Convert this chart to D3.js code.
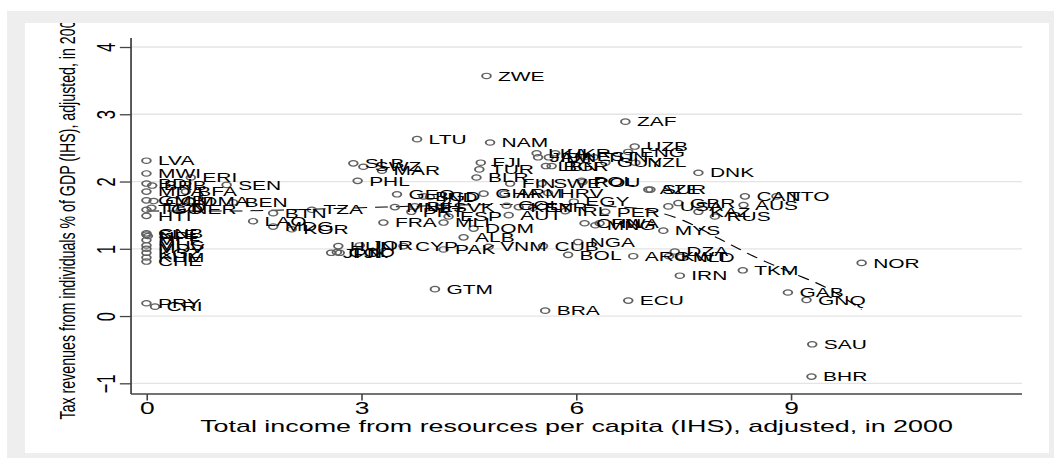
<!DOCTYPE html>
<html><head><meta charset="utf-8">
<script src="https://cdn.jsdelivr.net/npm/d3@7"></script>
<style>body{margin:0;background:#fff}svg text{font-family:"Liberation Sans",Arial,Helvetica,sans-serif}</style>
</head><body><svg id="c" width="1054" height="458"></svg>
<script>
const countries = ["LVA","MWI","ERI","BDI","BRB","SEN","MDA","BFA","GMB","COM","DMA","BEN","TGO","TCD","NER","HTI","GNB","SLE","NPL","MLT","MUS","MDV","KGZ","KHM","CHE","PRY","CRI",
"LAO","MDG","KOR","BTN","TZA","PHL","SLB","SWZ","MAR","LTU","GEO","BGD","IND","MNE","BIH","SVK","PRT","ESP","FRA","MLI","DOM","ALB","HUN","JOR","CYP","JPN","COD","TJK","PAK","GTM",
"ZWE","NAM","FJI","TUR","BLR","GHA","ARM","HRV","FIN","SWE","POL","ROU","LKA","UKR","JAM","IDN","EST","TUN","LBN","BGR","GUY","NZL","UZB","ENG","ZAF","EGY","COL","KEN","SYR","AUT","IRL","PER","CHN","RWA","MNG","CUB","NGA","VNM","BOL","ARG","BRA","ECU",
"AZE","SUR","DNK","USA","GBR","KAZ","RUS","AUS","CAN","TTO","MYS","DZA","KWT","NLD","IRN","TKM","NOR","GAB","GNQ","SAU","BHR"];
const xValues = [0,0,0.62,0,0.08,1.12,0,0.55,0,0.1,0.62,1.21,0,0.07,0.48,0,0,0,0.02,0,0,0,0,0,0,0,0.12,
1.49,1.77,2.03,1.77,2.31,2.95,2.89,3.03,3.29,3.78,3.50,3.87,3.96,3.47,3.75,4.12,3.70,4.22,3.31,4.15,4.57,4.43,2.68,2.98,3.59,2.58,2.66,2.70,4.15,4.03,
4.75,4.80,4.67,4.65,4.61,4.71,5.00,5.61,5.08,5.52,6.08,6.09,5.45,5.71,5.47,5.62,6.13,6.25,5.58,5.66,6.41,6.83,6.82,6.73,6.69,5.97,5.03,5.20,5.40,5.06,5.85,6.41,6.12,6.33,6.27,5.54,6.03,4.78,5.89,6.80,5.57,6.73,
7.01,7.04,7.71,7.29,7.43,7.71,7.94,8.34,8.36,8.80,7.22,7.38,7.30,7.47,7.45,8.33,9.99,8.96,9.22,9.30,9.29];
const yValues = [2.31,2.12,2.06,1.97,1.94,1.95,1.85,1.85,1.72,1.71,1.71,1.69,1.58,1.61,1.58,1.49,1.23,1.21,1.19,1.13,1.05,1.00,0.94,0.87,0.81,0.19,0.14,
1.41,1.33,1.29,1.53,1.58,2.01,2.27,2.22,2.16,2.63,1.81,1.78,1.77,1.62,1.63,1.62,1.55,1.48,1.39,1.39,1.30,1.17,1.04,1.05,1.04,0.94,0.95,0.94,0.99,0.40,
3.57,2.58,2.28,2.18,2.06,1.82,1.82,1.83,1.97,1.97,2.01,1.99,2.42,2.42,2.36,2.36,2.37,2.36,2.23,2.23,2.28,2.28,2.52,2.44,2.89,1.70,1.64,1.62,1.61,1.50,1.56,1.55,1.38,1.38,1.35,1.04,1.10,1.03,0.91,0.89,0.08,0.23,
1.88,1.88,2.13,1.63,1.68,1.55,1.48,1.65,1.78,1.78,1.27,0.96,0.89,0.88,0.60,0.68,0.79,0.35,0.24,-0.42,-0.90];
const fitX = [0,1,2,3,4,5,6,6.5,7,7.5,8,8.5,9,9.5,9.99];
const fitY = [1.56,1.56,1.58,1.61,1.64,1.66,1.66,1.63,1.58,1.42,1.15,0.88,0.65,0.42,0.10];
const xTicks = [0,3,6,9];
const yTicks = [-1,0,1,2,3,4];
const xTitle = "Total income from resources per capita (IHS), adjusted, in 2000";
const yTitle = "Tax revenues from individuals % of GDP (IHS), adjusted, in 2000";

const SX = 1.6;
const svg = d3.select("#c");
const root = svg.append("g").attr("transform", `scale(${SX},1)`);
const L = 81.9, R = 638.75, T = 38, B = 394;

root.append("rect").attr("x",7/SX).attr("y",11).attr("width",(1054-7)/SX).attr("height",458-11).attr("fill","#eeeeee");
root.append("rect").attr("x",25/SX).attr("y",23).attr("width",(1049-25)/SX).attr("height",453-23).attr("fill","#ffffff");
const defs = svg.append("defs");
defs.append("clipPath").attr("id","clipW").append("rect").attr("x",25/SX).attr("y",23).attr("width",(1049-25)/SX).attr("height",430);

const x = d3.scaleLinear().domain([-0.215, 12.23]).range([L, R]);
const y = d3.scaleLinear().domain([-1.159, 4.134]).range([B, T]);

// grid
root.append("g").selectAll("line").data(yTicks).join("line")
  .attr("x1", L).attr("x2", R).attr("y1", d=>y(d)).attr("y2", d=>y(d))
  .attr("stroke","#e4e4e4").attr("stroke-width",1.3);

// axes
const xAxis = root.append("g").attr("transform",`translate(0,${B})`)
  .call(d3.axisBottom(x).tickValues(xTicks).tickSize(6.5).tickPadding(1.5).tickFormat(d3.format("d")));
xAxis.select(".domain").attr("d",`M${L},0H${R}`).attr("stroke","#444").attr("stroke-width",1.3);
xAxis.selectAll(".tick line").attr("stroke","#444").attr("stroke-width",1);
xAxis.selectAll("text").attr("font-size",16.5).attr("fill","#000").attr("font-family",null);

const yAxis = root.append("g").attr("transform",`translate(${L},0)`)
  .call(d3.axisLeft(y).tickValues(yTicks).tickSize(7).tickPadding(2).tickFormat(d3.format("d")));
yAxis.select(".domain").attr("d",`M0,${T}V${B}`).attr("stroke","#444").attr("stroke-width",1.1);
yAxis.selectAll(".tick line").attr("stroke","#444").attr("stroke-width",1.3);
yAxis.selectAll("text").attr("font-size",16.5).attr("fill","#000").attr("font-family",null)
  .attr("transform","rotate(-90)").attr("x",0).attr("y",-10).attr("dy",0).attr("text-anchor","middle");

// fit line
const line = d3.line().x((d,i)=>x(fitX[i])).y((d,i)=>y(fitY[i])).curve(d3.curveMonotoneX);
root.append("path").datum(fitX).attr("d", line).attr("fill","none")
  .attr("stroke","#000").attr("stroke-width",1).attr("stroke-dasharray","8,5");

// points
const pts = root.append("g");
pts.selectAll("circle").data(countries).join("circle")
  .attr("cx",(d,i)=>x(xValues[i])).attr("cy",(d,i)=>y(yValues[i])).attr("r",2.7)
  .attr("fill","none").attr("stroke","#606060").attr("stroke-width",1.2);
pts.selectAll("text").data(countries).join("text")
  .attr("x",(d,i)=>x(xValues[i])+7.2).attr("y",(d,i)=>y(yValues[i])).attr("dy","0.36em")
  .attr("font-size",13.1).attr("fill","#000").text(d=>d);

// titles
root.append("text").attr("x",(L+R)/2).attr("y",432).attr("text-anchor","middle")
  .attr("font-size",16.8).attr("fill","#000").text(xTitle);
root.append("g").attr("clip-path","url(#clipW)").append("text")
  .attr("transform",`translate(47,216) rotate(-90)`).attr("text-anchor","middle")
  .attr("font-size",14.2).attr("fill","#000").text(yTitle);
</script></body></html>
